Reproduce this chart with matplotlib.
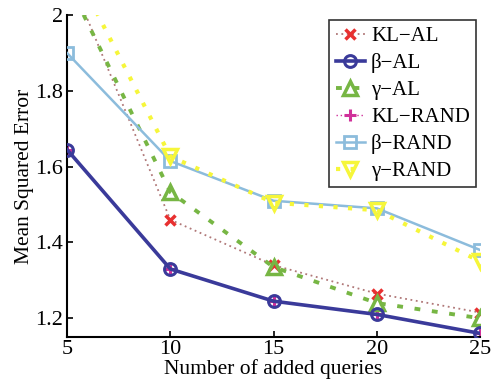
import numpy as np
import matplotlib
matplotlib.use("Agg")
import matplotlib.pyplot as plt

# ----- DATA -----
queries = [5, 10, 15, 20, 25]
kl_al = [2.12, 1.46, 1.34, 1.265, 1.215]
beta_al = [1.645, 1.33, 1.245, 1.21, 1.16]
gamma_al = [2.09, 1.533, 1.335, 1.24, 1.20]
kl_rand = [1.645, 1.33, 1.245, 1.21, 1.16]
beta_rand = [1.90, 1.615, 1.51, 1.49, 1.38]
gamma_rand = [2.16, 1.627, 1.505, 1.485, 1.35]

labels = ["KL\u2212AL", "\u03b2\u2212AL", "\u03b3\u2212AL",
          "KL\u2212RAND", "\u03b2\u2212RAND", "\u03b3\u2212RAND"]

plt.rcParams["font.family"] = ["Liberation Serif", "DejaVu Serif"]

fig = plt.figure(figsize=(4.93, 3.88), dpi=100)
ax = fig.add_axes([0.136, 0.131, 0.838, 0.830])

h_kl_al, = ax.plot(queries, kl_al, linestyle=(0, (1, 2)), color="#b07878", lw=1.3,
                   marker="x", ms=7, mew=2.5, mec="#e83030", zorder=3)
h_kl_rand, = ax.plot(queries, kl_rand, linestyle=(0, (1, 2)), color="#d0309a", lw=1.0,
                     marker="+", ms=8, mew=2.2, zorder=2)
h_beta_al, = ax.plot(queries, beta_al, linestyle="-", color="#3a3a9a", lw=2.6,
                     marker="o", ms=8.5, mew=2.2, mfc="none", zorder=4)
h_gamma_al, = ax.plot(queries, gamma_al, linestyle=(0, (1.5, 3)), color="#77b644", lw=2.8,
                      marker="^", ms=10.5, mew=2.5, mfc="none", zorder=3)
h_beta_rand, = ax.plot(queries, beta_rand, linestyle="-", color="#8cbcdc", lw=1.8,
                       marker="s", ms=8, mew=2, mfc="none", zorder=3)
h_gamma_rand, = ax.plot(queries, gamma_rand, linestyle=(0, (1, 2.5)), color="#f6f63a", lw=3,
                        marker="v", ms=10.5, mew=2.5, mfc="none", zorder=3)

ax.set_xlim(5, 25)
ax.set_ylim(1.15, 2.0)
ax.set_xticks([5, 10, 15, 20, 25])
ax.set_yticks([1.2, 1.4, 1.6, 1.8, 2.0])
ax.set_yticklabels(["1.2", "1.4", "1.6", "1.8", "2"])
ax.tick_params(direction="in", length=4, width=1.2, labelsize=16, pad=3)
ax.tick_params(axis="x", pad=2)

for side in ["top", "right"]:
    ax.spines[side].set_visible(False)
for side in ["left", "bottom"]:
    ax.spines[side].set_linewidth(1.5)

ax.set_xlabel("Number of added queries", fontsize=15.5, labelpad=0)
ax.set_ylabel("Mean Squared Error", fontsize=15.5, labelpad=1)

handles = [h_kl_al, h_beta_al, h_gamma_al, h_kl_rand, h_beta_rand, h_gamma_rand]
leg = ax.legend(handles, labels, loc="upper right", bbox_to_anchor=(0.99, 0.985),
                fontsize=15, frameon=True, fancybox=False, edgecolor="black",
                handlelength=1.4, handletextpad=0.3, labelspacing=0.35,
                borderpad=0.3, borderaxespad=0)
leg.get_frame().set_linewidth(1.2)

fig.savefig("out.png", dpi=100)
